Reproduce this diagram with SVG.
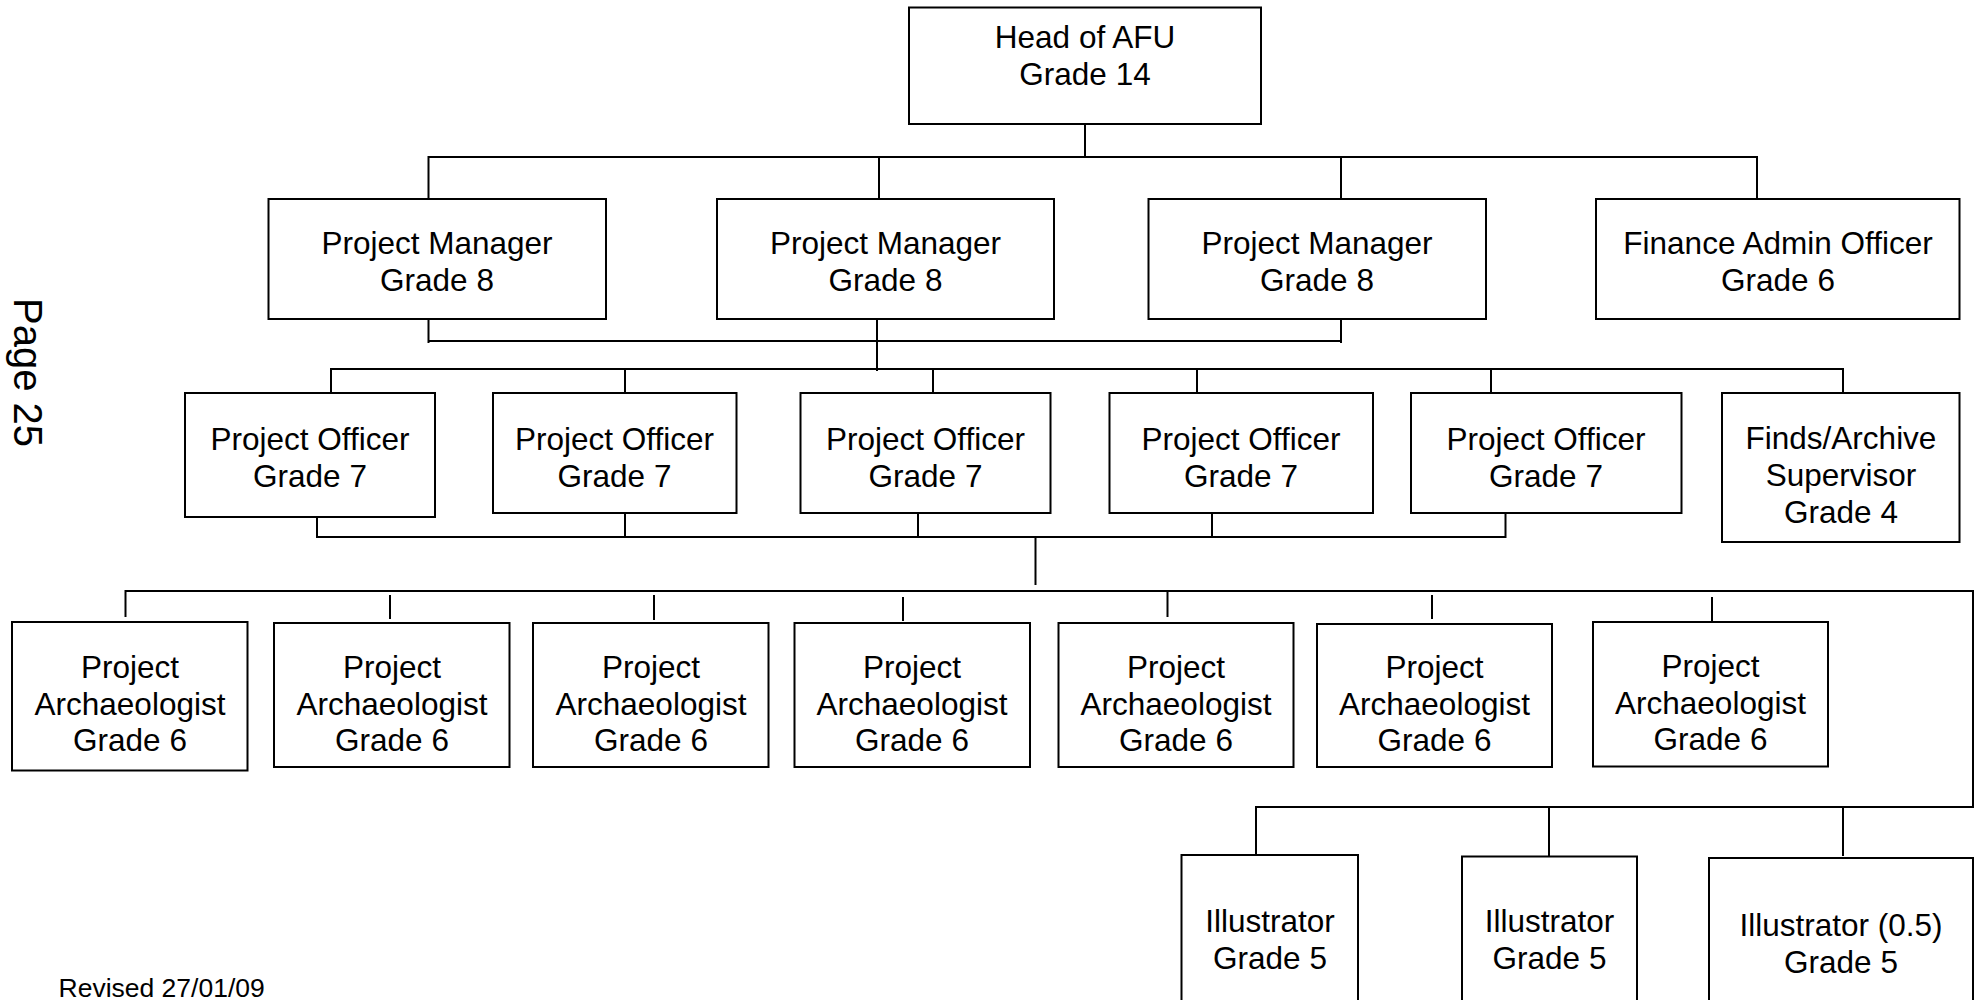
<svg xmlns="http://www.w3.org/2000/svg" width="1975" height="1000" viewBox="0 0 1975 1000">
<style>
.box{fill:#fff;stroke:#000;stroke-width:2}
.t{font-family:"Liberation Sans",Arial,sans-serif;font-size:31.5px;fill:#000;text-anchor:middle}
.c line{stroke:#000;stroke-width:2;fill:none}
.note{font-family:"Liberation Sans",Arial,sans-serif;fill:#000}
</style>
<rect width="1975" height="1000" fill="#fff"/>
<g class="c" id="connectors">
<line x1="1085" y1="124" x2="1085" y2="158"/>
<line x1="428.5" y1="157" x2="1757" y2="157"/>
<line x1="428.5" y1="156" x2="428.5" y2="199"/>
<line x1="879" y1="157" x2="879" y2="200"/>
<line x1="1341" y1="157" x2="1341" y2="199"/>
<line x1="1757" y1="156" x2="1757" y2="199"/>
<line x1="428.5" y1="319" x2="428.5" y2="343"/>
<line x1="877" y1="319" x2="877" y2="371"/>
<line x1="1341" y1="319" x2="1341" y2="343"/>
<line x1="428.5" y1="341" x2="1341" y2="341"/>
<line x1="331" y1="369" x2="1843" y2="369"/>
<line x1="331" y1="368" x2="331" y2="393"/>
<line x1="625" y1="369" x2="625" y2="393"/>
<line x1="933" y1="369" x2="933" y2="393"/>
<line x1="1197" y1="369" x2="1197" y2="393"/>
<line x1="1491" y1="369" x2="1491" y2="393"/>
<line x1="1843" y1="368" x2="1843" y2="393"/>
<line x1="317" y1="513" x2="317" y2="538"/>
<line x1="625" y1="513" x2="625" y2="537"/>
<line x1="918" y1="513" x2="918" y2="537"/>
<line x1="1212" y1="513" x2="1212" y2="537"/>
<line x1="1505.5" y1="513" x2="1505.5" y2="538"/>
<line x1="317" y1="537" x2="1505.5" y2="537"/>
<line x1="1035.5" y1="537" x2="1035.5" y2="585"/>
<line x1="125.5" y1="591" x2="1973" y2="591"/>
<line x1="125.5" y1="590" x2="125.5" y2="617"/>
<line x1="390" y1="595" x2="390" y2="619"/>
<line x1="654" y1="595" x2="654" y2="620"/>
<line x1="903" y1="597" x2="903" y2="621"/>
<line x1="1167.5" y1="591" x2="1167.5" y2="617"/>
<line x1="1432" y1="595" x2="1432" y2="619"/>
<line x1="1712" y1="597" x2="1712" y2="621"/>
<line x1="1973" y1="590" x2="1973" y2="808"/>
<line x1="1256" y1="807" x2="1973" y2="807"/>
<line x1="1256" y1="806" x2="1256" y2="856"/>
<line x1="1549" y1="807" x2="1549" y2="857"/>
<line x1="1843" y1="807" x2="1843" y2="856"/>
</g>
<g id="head"><rect class="box" x="909" y="7.5" width="352" height="116.5"/><text class="t" x="1085" y="48">Head of AFU</text><text class="t" x="1085" y="85">Grade 14</text></g>
<g id="pm1"><rect class="box" x="268.5" y="199" width="337.5" height="120"/><text class="t" x="437" y="254">Project Manager</text><text class="t" x="437" y="291">Grade 8</text></g>
<g id="pm2"><rect class="box" x="717" y="199" width="337" height="120"/><text class="t" x="885.5" y="254">Project Manager</text><text class="t" x="885.5" y="291">Grade 8</text></g>
<g id="pm3"><rect class="box" x="1148.5" y="199" width="337.5" height="120"/><text class="t" x="1317" y="254">Project Manager</text><text class="t" x="1317" y="291">Grade 8</text></g>
<g id="finance"><rect class="box" x="1596" y="199" width="363.5" height="120"/><text class="t" x="1778" y="254">Finance Admin Officer</text><text class="t" x="1778" y="291">Grade 6</text></g>
<g id="po1"><rect class="box" x="185" y="393" width="250" height="124"/><text class="t" x="310" y="450">Project Officer</text><text class="t" x="310" y="486.5">Grade 7</text></g>
<g id="po2"><rect class="box" x="493" y="393" width="243.5" height="120"/><text class="t" x="614.5" y="450">Project Officer</text><text class="t" x="614.5" y="486.5">Grade 7</text></g>
<g id="po3"><rect class="box" x="800.5" y="393" width="250" height="120"/><text class="t" x="925.5" y="450">Project Officer</text><text class="t" x="925.5" y="486.5">Grade 7</text></g>
<g id="po4"><rect class="box" x="1109.5" y="393" width="263.5" height="120"/><text class="t" x="1241" y="450">Project Officer</text><text class="t" x="1241" y="486.5">Grade 7</text></g>
<g id="po5"><rect class="box" x="1411" y="393" width="270.5" height="120"/><text class="t" x="1546" y="450">Project Officer</text><text class="t" x="1546" y="486.5">Grade 7</text></g>
<g id="finds"><rect class="box" x="1722" y="393" width="237.5" height="149"/><text class="t" x="1841" y="449">Finds/Archive</text><text class="t" x="1841" y="486">Supervisor</text><text class="t" x="1841" y="523">Grade 4</text></g>
<g id="pa1"><rect class="box" x="12" y="622" width="235.5" height="148.5"/><text class="t" x="130" y="678">Project</text><text class="t" x="130" y="714.5">Archaeologist</text><text class="t" x="130" y="751">Grade 6</text></g>
<g id="pa2"><rect class="box" x="274" y="623" width="235.5" height="144"/><text class="t" x="392" y="678">Project</text><text class="t" x="392" y="714.5">Archaeologist</text><text class="t" x="392" y="751">Grade 6</text></g>
<g id="pa3"><rect class="box" x="533" y="623" width="235.5" height="144"/><text class="t" x="651" y="678">Project</text><text class="t" x="651" y="714.5">Archaeologist</text><text class="t" x="651" y="751">Grade 6</text></g>
<g id="pa4"><rect class="box" x="794.5" y="623" width="235.5" height="144"/><text class="t" x="912" y="678">Project</text><text class="t" x="912" y="714.5">Archaeologist</text><text class="t" x="912" y="751">Grade 6</text></g>
<g id="pa5"><rect class="box" x="1058.5" y="623" width="235" height="144"/><text class="t" x="1176" y="678">Project</text><text class="t" x="1176" y="714.5">Archaeologist</text><text class="t" x="1176" y="751">Grade 6</text></g>
<g id="pa6"><rect class="box" x="1317" y="624" width="235" height="143"/><text class="t" x="1434.5" y="678">Project</text><text class="t" x="1434.5" y="714.5">Archaeologist</text><text class="t" x="1434.5" y="751">Grade 6</text></g>
<g id="pa7"><rect class="box" x="1593" y="622" width="235" height="144.5"/><text class="t" x="1710.5" y="677">Project</text><text class="t" x="1710.5" y="713.5">Archaeologist</text><text class="t" x="1710.5" y="750">Grade 6</text></g>
<g id="ill1"><rect class="box" x="1181.5" y="855" width="176.5" height="160"/><text class="t" x="1270" y="932">Illustrator</text><text class="t" x="1270" y="968.5">Grade 5</text></g>
<g id="ill2"><rect class="box" x="1462" y="856.5" width="175" height="160"/><text class="t" x="1549.5" y="932">Illustrator</text><text class="t" x="1549.5" y="968.5">Grade 5</text></g>
<g id="ill3"><rect class="box" x="1709" y="858" width="264" height="160"/><text class="t" x="1841" y="935.5">Illustrator (0.5)</text><text class="t" x="1841" y="972.5">Grade 5</text></g>
<text class="note" font-size="40" transform="translate(13.5,298) rotate(90)">Page 25</text>
<text class="note" font-size="26.5" x="58.5" y="996.5">Revised 27/01/09</text>
</svg>
